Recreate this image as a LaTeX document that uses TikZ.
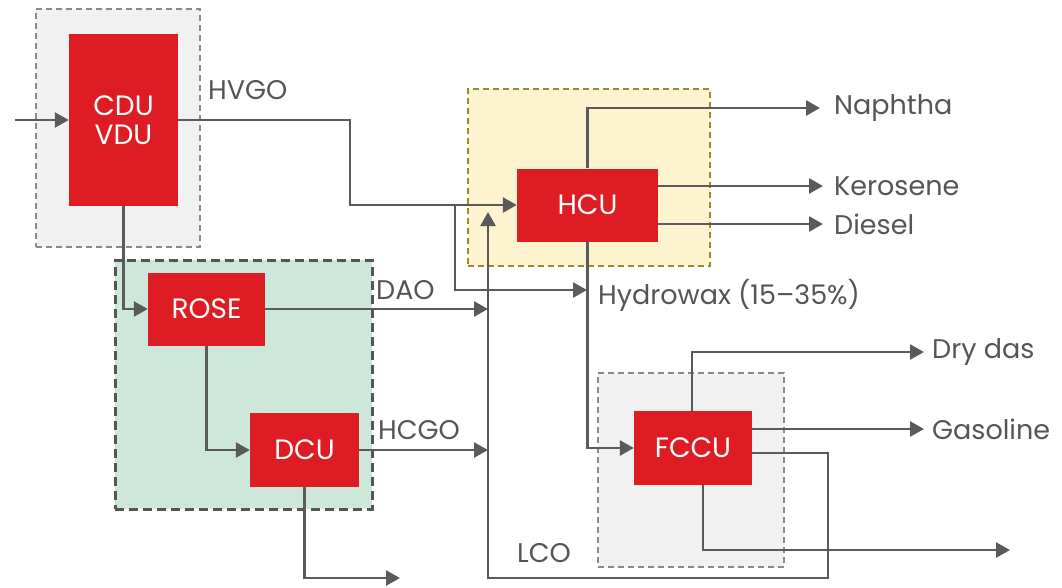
\documentclass[tikz,border=0pt]{standalone}
\usepackage{fontspec}
\setmainfont{Poppins}
\usetikzlibrary{arrows.meta,calc}
\definecolor{rd}{HTML}{DD1C23}
\definecolor{ln}{HTML}{5A5A5A}
\definecolor{tx}{HTML}{555555}
\definecolor{grayfill}{HTML}{F1F1F1}
\definecolor{grayedge}{HTML}{8A8A8A}
\definecolor{greenfill}{HTML}{CDE8DA}
\definecolor{greenedge}{HTML}{555555}
\definecolor{yelfill}{HTML}{FDF3CF}
\definecolor{yeledge}{HTML}{9B8A2C}
\tikzset{
  unit/.style={fill=rd, text=white, inner sep=0pt, align=center,
    font=\fontsize{28}{31}\selectfont},
  grp/.style={inner sep=0pt, dashed},
  lbl/.style={text=tx, inner sep=0pt, anchor=west, font=\fontsize{27}{31}\selectfont},
  flow/.style={draw=ln, line width=2.7pt, line join=miter},
  arr/.style={flow, -{Triangle[length=14pt,width=15pt]}},
}
\begin{document}
\begin{tikzpicture}[x=1pt,y=-1pt]
\useasboundingbox (0,0) rectangle (1062,587);
% group boxes
\node[grp, fill=grayfill, draw=grayedge, line width=1.4pt, dash pattern=on 6pt off 4pt,
  minimum width=164pt, minimum height=238pt] (gcdu) at (118,128) {};
\node[grp, fill=yelfill, draw=yeledge, line width=1.6pt, dash pattern=on 6pt off 4pt,
  minimum width=242pt, minimum height=177pt] (ghcu) at (589,177.5) {};
\node[grp, fill=greenfill, draw=greenedge, line width=3pt, dash pattern=on 9pt off 5pt,
  minimum width=257pt, minimum height=249pt] (grose) at (243.5,384.5) {};
\node[grp, fill=grayfill, draw=grayedge, line width=1.4pt, dash pattern=on 6pt off 4pt,
  minimum width=186pt, minimum height=194pt] (gfccu) at (691,470) {};
% units
\node[unit, minimum width=109pt, minimum height=172pt] (cdu) at (123.5,120) {CDU\\[-2pt]VDU};
\node[unit, minimum width=117pt, minimum height=73pt] (rose) at (206.5,309) {ROSE};
\node[unit, minimum width=109pt, minimum height=74pt] (dcu) at (304.5,450) {DCU};
\node[unit, minimum width=141pt, minimum height=73pt] (hcu) at (587.5,205) {HCU};
\node[unit, minimum width=118pt, minimum height=74pt] (fccu) at (693,448) {FCCU};
% labels
\node[lbl] (hvgo) at (208,90) {HVGO};
\node[lbl] (dao) at (376,290) {DAO};
\node[lbl] (hcgo) at (378,430) {HCGO};
\node[lbl] (lco) at (517,553) {LCO};
\node[lbl] (hwax) at (598,295) {Hydrowax (15–35\%)};
\node[lbl] (naph) at (834,108) {Naphtha};
\node[lbl] (kero) at (834,186) {Kerosene};
\node[lbl] (dies) at (834,224) {Diesel};
\node[lbl] (dry) at (932,352) {Dry das};
\node[lbl] (gas) at (932,429) {Gasoline};
% free ends
\coordinate (feed) at (15,120);
\coordinate (lcoend) at (488,212);
\coordinate (coke) at (400,578);
\coordinate (slurry) at (1010,550);
% connectors
\draw[arr] (feed) -- (cdu.west);
\draw[arr] (cdu.east) -- (350,120) -- (350,205) -- (hcu.west);
\draw[arr] (455,205) -- (455,290) -- (587,290);
\draw[arr] (cdu.south) |- (rose.west);
\draw[arr] (rose.south) |- (dcu.west);
\draw[arr] (rose.east) -- (488,309);
\draw[arr] (dcu.east) -- (488,450);
\draw[arr] (dcu.south) |- (coke);
\draw[arr] (hcu.north) |- ([xshift=-14pt]naph.west);
\draw[arr] (hcu.east |- kero.west) -- ([xshift=-11pt]kero.west);
\draw[arr] (hcu.east |- dies.west) -- ([xshift=-11pt]dies.west);
\draw[arr] (hcu.south) |- (fccu.west);
\draw[arr] ([xshift=-1pt]fccu.north) |- ([xshift=-8pt]dry.west);
\draw[arr] (fccu.east |- gas.west) -- ([xshift=-8pt]gas.west);
\draw[arr] ($(fccu.east)+(0,5)$) -- (828,453) -- (828,578) -- (488,578) -- (lcoend);
\draw[arr] ($(fccu.south)+(10,0)$) |- (slurry);
\end{tikzpicture}
\end{document}
